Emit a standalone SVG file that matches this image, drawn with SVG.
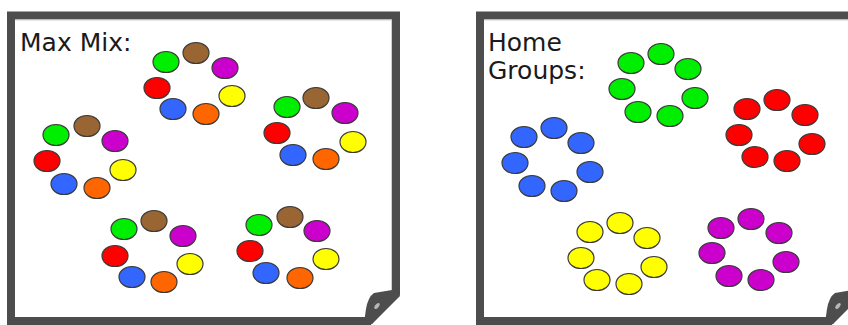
<svg xmlns="http://www.w3.org/2000/svg" width="848" height="325" viewBox="0 0 848 325">
<style>
  .page{fill:#ffffff;stroke:#4d4d4d;stroke-width:8;stroke-linejoin:miter}
  .inner{fill:none;stroke:#d0d0d0;stroke-width:1}
  .fold{fill:#4d4d4d}
  .hl{fill:#b8b8b8}
  .lbl{font-family:"DejaVu Sans","Liberation Sans",sans-serif;font-size:25px;fill:#1a1a1a}
  ellipse.m{stroke:#3a3a3a;stroke-width:1.2}
  .g{fill:#00ee00}.br{fill:#996633}.mg{fill:#cc00cc}.r{fill:#ff0000}
  .y{fill:#ffff00}.b{fill:#3366ff}.o{fill:#ff6600}
</style>
<defs>
  <ellipse id="e" class="m" rx="13" ry="10.5"/>
</defs>

<g id="panel-max-mix">
  <path class="page" d="M11,15.5 H396 V293 L369,321 H11 Z"/>
  <path class="inner" d="M15.5,20 H391.5 V291"/>
  <path class="fold" d="M398,289 L374,293 Q368,297 366,309 L364,323 L372,324 L400,296 Z"/>
  <ellipse class="hl" cx="377" cy="306" rx="3.5" ry="1.8" transform="rotate(-50 377 306)"/>
  <text class="lbl" x="20" y="51">Max Mix:</text>
</g>

<g id="panel-home-groups">
  <path class="page" d="M480,15.5 H857 V293 L830,321 H480 Z"/>
  <path class="inner" d="M484.5,20 H852"/>
  <path class="fold" d="M859,289 L835,293 Q829,297 827,309 L825,323 L833,324 L861,296 Z"/>
  <ellipse class="hl" cx="838" cy="306" rx="3.5" ry="1.8" transform="rotate(-50 838 306)"/>
  <text class="lbl" x="488" y="51">Home</text>
  <text class="lbl" x="488" y="79">Groups:</text>
</g>

<g id="mix-ring-1">
  <use href="#e" class="g" x="166" y="62"/>
  <use href="#e" class="br" x="196" y="53"/>
  <use href="#e" class="mg" x="225" y="68"/>
  <use href="#e" class="r" x="157" y="88"/>
  <use href="#e" class="y" x="232" y="96"/>
  <use href="#e" class="b" x="173" y="109"/>
  <use href="#e" class="o" x="206" y="114"/>
</g>
<g id="mix-ring-2">
  <use href="#e" class="g" x="287" y="107"/>
  <use href="#e" class="br" x="316" y="98"/>
  <use href="#e" class="mg" x="345" y="113"/>
  <use href="#e" class="r" x="277" y="133"/>
  <use href="#e" class="y" x="353" y="142"/>
  <use href="#e" class="b" x="293" y="155"/>
  <use href="#e" class="o" x="326" y="159"/>
</g>
<g id="mix-ring-3">
  <use href="#e" class="g" x="56" y="135"/>
  <use href="#e" class="br" x="87" y="126"/>
  <use href="#e" class="mg" x="115" y="141"/>
  <use href="#e" class="r" x="47" y="161"/>
  <use href="#e" class="y" x="123" y="170"/>
  <use href="#e" class="b" x="64" y="184"/>
  <use href="#e" class="o" x="97" y="188"/>
</g>
<g id="mix-ring-4">
  <use href="#e" class="g" x="124" y="229"/>
  <use href="#e" class="br" x="154" y="221"/>
  <use href="#e" class="mg" x="183" y="236"/>
  <use href="#e" class="r" x="115" y="256"/>
  <use href="#e" class="y" x="190" y="264"/>
  <use href="#e" class="b" x="132" y="277"/>
  <use href="#e" class="o" x="164" y="282"/>
</g>
<g id="mix-ring-5">
  <use href="#e" class="g" x="259" y="225"/>
  <use href="#e" class="br" x="290" y="217"/>
  <use href="#e" class="mg" x="317" y="231"/>
  <use href="#e" class="r" x="250" y="251"/>
  <use href="#e" class="y" x="326" y="259"/>
  <use href="#e" class="b" x="266" y="273"/>
  <use href="#e" class="o" x="300" y="278"/>
</g>

<g id="home-green">
  <use href="#e" class="g" x="631" y="63"/>
  <use href="#e" class="g" x="661" y="54"/>
  <use href="#e" class="g" x="688" y="69"/>
  <use href="#e" class="g" x="622" y="89"/>
  <use href="#e" class="g" x="695" y="98"/>
  <use href="#e" class="g" x="638" y="112"/>
  <use href="#e" class="g" x="670" y="116"/>
</g>
<g id="home-red">
  <use href="#e" class="r" x="747" y="109"/>
  <use href="#e" class="r" x="777" y="100"/>
  <use href="#e" class="r" x="805" y="115"/>
  <use href="#e" class="r" x="739" y="135"/>
  <use href="#e" class="r" x="812" y="144"/>
  <use href="#e" class="r" x="755" y="157"/>
  <use href="#e" class="r" x="787" y="161"/>
</g>
<g id="home-blue">
  <use href="#e" class="b" x="524" y="137"/>
  <use href="#e" class="b" x="554" y="128"/>
  <use href="#e" class="b" x="581" y="143"/>
  <use href="#e" class="b" x="515" y="163"/>
  <use href="#e" class="b" x="590" y="172"/>
  <use href="#e" class="b" x="532" y="186"/>
  <use href="#e" class="b" x="564" y="191"/>
</g>
<g id="home-yellow">
  <use href="#e" class="y" x="590" y="232"/>
  <use href="#e" class="y" x="620" y="223"/>
  <use href="#e" class="y" x="647" y="238"/>
  <use href="#e" class="y" x="581" y="258"/>
  <use href="#e" class="y" x="654" y="267"/>
  <use href="#e" class="y" x="597" y="280"/>
  <use href="#e" class="y" x="629" y="284"/>
</g>
<g id="home-magenta">
  <use href="#e" class="mg" x="721" y="228"/>
  <use href="#e" class="mg" x="751" y="219"/>
  <use href="#e" class="mg" x="779" y="233"/>
  <use href="#e" class="mg" x="712" y="253"/>
  <use href="#e" class="mg" x="786" y="262"/>
  <use href="#e" class="mg" x="729" y="276"/>
  <use href="#e" class="mg" x="761" y="280"/>
</g>

<g id="connectors"/>
</svg>
